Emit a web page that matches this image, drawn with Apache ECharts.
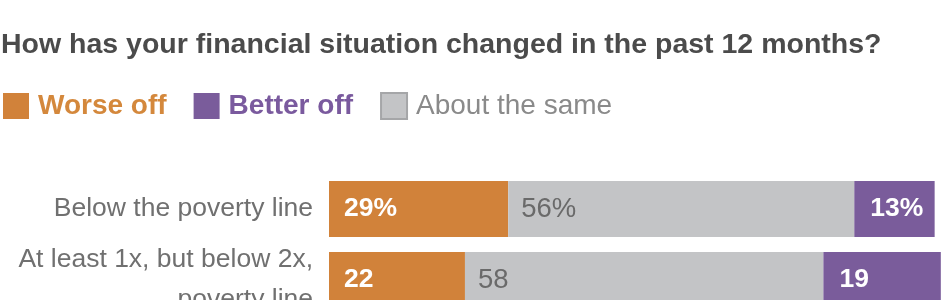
<!DOCTYPE html>
<html>
<head>
<meta charset="utf-8">
<script src="https://cdn.jsdelivr.net/npm/echarts@6/dist/echarts.min.js"></script>
<style>
html,body{margin:0;padding:0;background:#fff;}
#chart{width:950px;height:300px;}
</style>
</head>
<body>
<div id="chart"></div>
<script>
var titleText = 'How has your financial situation changed in the past 12 months?';
var categories = ['Below the poverty line', 'At least 1x, but below 2x,\npoverty line'];
var worseOff = [29, 22];
var aboutSame = [56, 58];
var betterOff = [13, 19];

var FONT = '"Liberation Sans", Arial, sans-serif';
var ORANGE = '#D1823A', PURPLE = '#7A5C9B', GRAY = '#C3C4C6';

function fmt(p) { return p.dataIndex === 0 ? p.value + '%' : String(p.value); }

var chart = echarts.init(document.getElementById('chart'), null, {renderer: 'canvas'});
chart.setOption({
  animation: false,
  backgroundColor: '#ffffff',
  title: {
    text: titleText,
    left: 1, top: 31,
    padding: 0,
    textStyle: {fontFamily: FONT, fontSize: 28.5, fontWeight: 'bold', color: '#4b4b4b'}
  },
  legend: {
    left: 3, top: 92, padding: 0,
    itemWidth: 26, itemHeight: 26, itemGap: 27,
    icon: 'rect',
    selectedMode: false,
    textStyle: {fontFamily: FONT, fontSize: 28, padding: [0, 0, 0, 4]},
    data: [
      {name: 'Worse off', textStyle: {color: '#D4883C', fontWeight: 'bold'}},
      {name: 'Better off', textStyle: {color: '#7A5A9E', fontWeight: 'bold'}},
      {name: 'About the same', textStyle: {color: '#8a8a8a'}, itemStyle: {borderColor: '#a5a6a8', borderWidth: 2}}
    ]
  },
  grid: {left: 329, top: 173.5, width: 618, height: 142, containLabel: false, outerBoundsMode: 'none'},
  xAxis: {type: 'value', min: 0, max: 100, show: false},
  yAxis: {
    type: 'category', data: categories, inverse: true,
    axisLine: {show: false}, axisTick: {show: false}, splitLine: {show: false},
    axisLabel: {fontFamily: FONT, fontSize: 26.5, color: '#707070', margin: 16, lineHeight: 40, align: 'right'}
  },
  series: [
    {
      name: 'Worse off', type: 'bar', stack: 'all', data: worseOff, barWidth: 56,
      itemStyle: {color: ORANGE},
      label: {show: true, position: 'insideLeft', distance: 15, formatter: fmt,
        fontFamily: FONT, fontSize: 26.5, fontWeight: 'bold', color: '#ffffff'}
    },
    {
      name: 'About the same', type: 'bar', stack: 'all', data: aboutSame, barWidth: 56,
      itemStyle: {color: GRAY},
      label: {show: true, position: 'insideLeft', distance: 13, formatter: fmt,
        fontFamily: FONT, fontSize: 27.5, color: '#6a6a6a'}
    },
    {
      name: 'Better off', type: 'bar', stack: 'all', data: betterOff, barWidth: 56,
      itemStyle: {color: PURPLE},
      label: {show: true, position: 'insideLeft', distance: 16, formatter: fmt,
        fontFamily: FONT, fontSize: 26.5, fontWeight: 'bold', color: '#ffffff'}
    }
  ]
});
</script>
</body>
</html>
